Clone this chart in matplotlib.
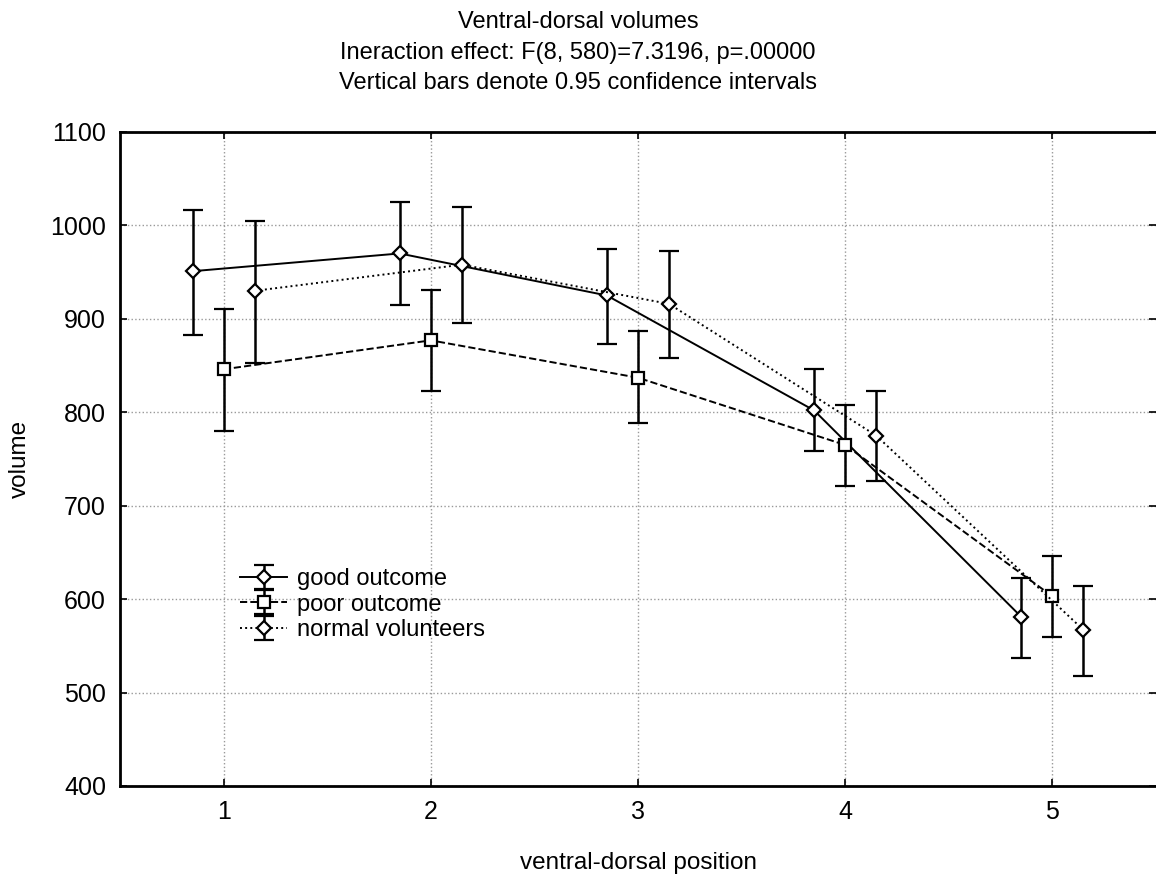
import numpy as np
import matplotlib
matplotlib.use("Agg")
import matplotlib.pyplot as plt

plt.rcParams["font.family"] = ["Liberation Sans", "DejaVu Sans"]

# 数据：ventral-dorsal 位置 1..5
positions = [1, 2, 3, 4, 5]

good_mean = [951, 970, 925, 802, 581]
good_lo = [883, 915, 873, 759, 537]
good_hi = [1017, 1025, 975, 846, 623]

poor_mean = [846, 877, 837, 765, 603]
poor_lo = [780, 823, 788, 721, 560]
poor_hi = [911, 931, 887, 808, 646]

normal_mean = [930, 958, 916, 775, 567]
normal_lo = [853, 896, 858, 726, 518]
normal_hi = [1005, 1020, 973, 823, 614]

labels = ["good outcome", "poor outcome", "normal volunteers"]
title_lines = ["Ventral-dorsal volumes",
               "Ineraction effect: F(8, 580)=7.3196, p=.00000",
               "Vertical bars denote 0.95 confidence intervals"]

fig = plt.figure(figsize=(11.56, 8.75), dpi=100)
ax = fig.add_axes([120 / 1156, 1 - 786 / 875, 1 - 120 / 1156, (786 - 132) / 875])

x = np.array(positions, dtype=float)


def draw(offset, mean, lo, hi, marker, ls, label, ms):
    mean = np.array(mean)
    yerr = [mean - np.array(lo), np.array(hi) - mean]
    ax.errorbar(x + offset, mean, yerr=yerr, color="black", ls=ls, lw=1.4,
                marker=marker, ms=ms, mfc="white", mec="black", mew=1.6,
                ecolor="black", elinewidth=1.8, capsize=7.5, capthick=1.8,
                label=label)


draw(-0.15, good_mean, good_lo, good_hi, "D", "-", labels[0], 7.5)
draw(0.0, poor_mean, poor_lo, poor_hi, "s", "--", labels[1], 8.5)
draw(0.15, normal_mean, normal_lo, normal_hi, "D", ":", labels[2], 7.5)

ax.set_xlim(0.5, 5.5)
ax.set_ylim(400, 1100)
ax.set_xticks(positions)
ax.set_yticks(range(400, 1101, 100))
ax.grid(True, color="#999999", ls=":", lw=1.0)
ax.tick_params(direction="in", top=True, right=True, length=5, width=1.2,
               labelsize=18, pad=10)
for s in ax.spines.values():
    s.set_linewidth(2)
ax.spines["right"].set_visible(False)

ax.set_xlabel("ventral-dorsal position", fontsize=17.5, labelpad=20)
ax.set_ylabel("volume", fontsize=17.5, labelpad=14)

for i, t in enumerate(title_lines):
    fig.text(0.5, 1 - (22 + 30.5 * i) / 875, t, ha="center", va="center", fontsize=17)

leg = ax.legend(loc="upper left", bbox_to_anchor=(240 / 1156, 1 - 568 / 875),
                bbox_transform=fig.transFigure, frameon=False, fontsize=17,
                labelspacing=0.15, handlelength=2.0, handletextpad=0.4,
                borderpad=0, borderaxespad=0)

fig.savefig("out.png", dpi=100)
